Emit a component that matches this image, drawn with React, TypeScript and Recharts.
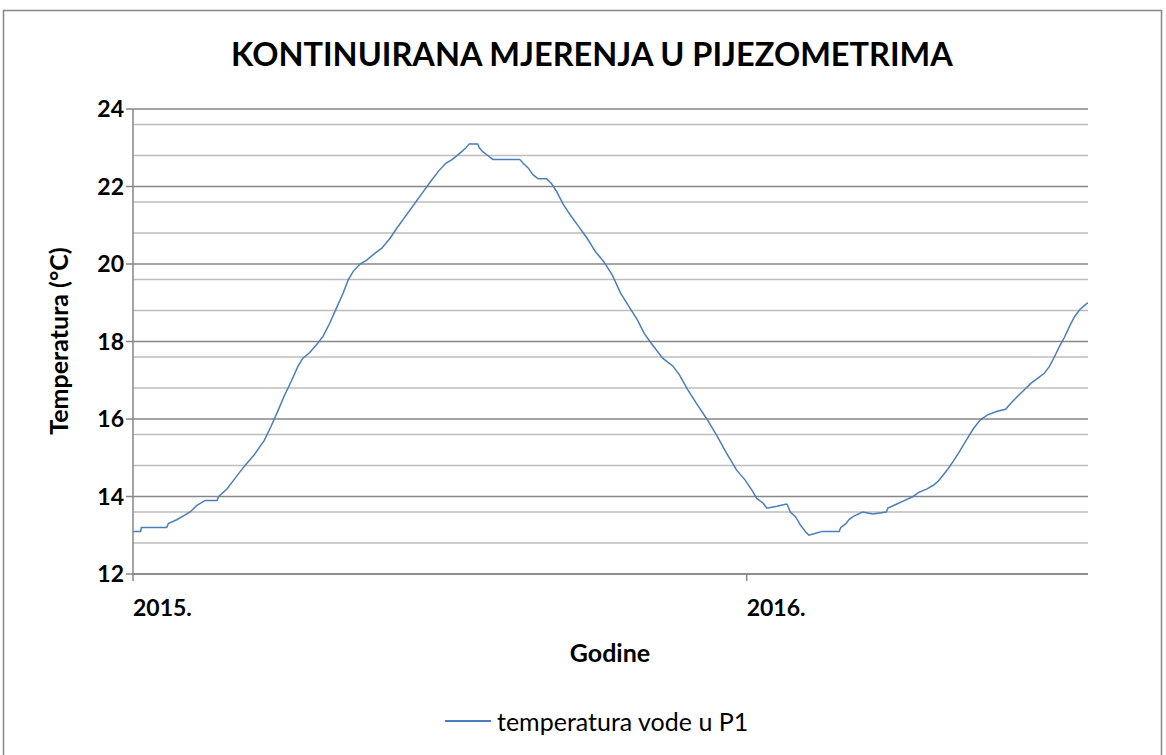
import { CartesianGrid, Legend, Line, LineChart, XAxis, YAxis } from 'recharts'

// days since 1.1.2015, water temperature
const days = [
    0, 4.5, 5, 20, 21, 26, 30, 34, 38, 43, 50, 51, 56, 60, 66, 72, 78, 82, 86, 90, 94, 98,
    101, 105, 109, 113, 117, 121, 125, 128, 131, 135, 139, 144, 148, 153, 157, 162, 167, 172, 177, 182,
    186, 190, 195, 198, 200, 205, 206, 208, 211, 214, 230, 232, 235, 238, 241, 246, 249, 252, 256, 260,
    265, 270, 275, 280, 285, 290, 295, 300, 304, 309, 315, 321, 325, 330, 335, 341, 347, 353, 359, 364,
    368, 371, 375, 377, 383, 388, 389, 391, 394, 397, 400, 402, 406, 410, 420, 421, 424, 426, 429, 434,
    440, 448, 449, 454, 459, 464, 467, 472, 476, 479, 482, 485, 488, 491, 496, 500, 504, 508, 514, 519,
    522, 526, 530, 534, 538, 542, 545, 548, 551, 554, 557, 560, 563, 567, 568
]
const temps = [
    13.1, 13.1, 13.2, 13.2, 13.3, 13.4, 13.5, 13.6, 13.77, 13.9, 13.9, 14.0, 14.2, 14.43, 14.77, 15.07, 15.44, 15.8, 16.19, 16.6, 16.96, 17.35,
    17.57, 17.71, 17.91, 18.13, 18.47, 18.86, 19.25, 19.59, 19.81, 20.0, 20.1, 20.28, 20.41, 20.67, 20.93, 21.23, 21.53, 21.83, 22.13, 22.41,
    22.6, 22.7, 22.88, 23.0, 23.1, 23.1, 23.0, 22.9, 22.8, 22.7, 22.7, 22.6, 22.48, 22.3, 22.2, 22.2, 22.07, 21.87, 21.53, 21.27,
    20.97, 20.67, 20.32, 20.06, 19.72, 19.25, 18.9, 18.56, 18.21, 17.91, 17.57, 17.37, 17.14, 16.75, 16.41, 16.02, 15.59, 15.12, 14.68, 14.43,
    14.17, 13.95, 13.82, 13.7, 13.75, 13.8, 13.8, 13.6, 13.48, 13.26, 13.09, 13.0, 13.05, 13.1, 13.1, 13.2, 13.3, 13.41, 13.5, 13.6,
    13.55, 13.6, 13.7, 13.8, 13.9, 14.0, 14.1, 14.19, 14.29, 14.4, 14.56, 14.73, 14.92, 15.12, 15.48, 15.76, 15.98, 16.1, 16.2, 16.25,
    16.4, 16.58, 16.75, 16.92, 17.05, 17.18, 17.35, 17.6, 17.87, 18.11, 18.39, 18.64, 18.82, 18.97, 19.0
]

const yearTicks = [0, 365]
const yearLabels = ['2015.', '2016.']
const majorTicks = [12, 14, 16, 18, 20, 22, 24]
const minorTicks = [12.4, 12.8, 13.2, 13.6, 14.4, 14.8, 15.2, 15.6, 16.4, 16.8, 17.2, 17.6,
    18.4, 18.8, 19.2, 19.6, 20.4, 20.8, 21.2, 21.6, 22.4, 22.8, 23.2, 23.6]

const data = days.map((d, i) => ({ day: d, temp: temps[i] }))

const FONT = 'Lato, "Open Sans", sans-serif'

const YearTick = (props) => {
    const { x, y, payload } = props
    const idx = yearTicks.indexOf(payload.value)
    return (
        <text x={x} y={y + 33} textAnchor="start" fontFamily={FONT} fontWeight="bold" fontSize={23} fill="#000">
            {yearLabels[idx]}
        </text>
    )
}

const LegendBox = () => (
    <div style={{ display: 'flex', alignItems: 'center', height: 30, fontFamily: FONT, fontSize: 25 }}>
        <div style={{ width: 46, height: 0, borderTop: '2px solid #4a7ebb', marginRight: 6 }} />
        <span>temperatura vode u P1</span>
    </div>
)

export default function App() {
    return (
        <div style={{ position: 'absolute', left: 0, top: 0, width: 1166, height: 755, overflow: 'hidden', background: '#fff' }}>
            <svg width={1166} height={755} style={{ position: 'absolute', left: 0, top: 0 }}>
                <rect x={3.5} y={10.5} width={1158} height={800} fill="#fff" stroke="#868686" strokeWidth={1.5} />
            </svg>
            <div style={{ position: 'absolute', left: 0, width: 1184, top: 34, textAlign: 'center', fontFamily: FONT, fontWeight: 'bold', fontSize: 32.5, color: '#000' }}>
                KONTINUIRANA MJERENJA U PIJEZOMETRIMA
            </div>
            <div style={{ position: 'absolute', left: 58, top: 341, transform: 'translate(-50%, -50%) rotate(-90deg)', whiteSpace: 'nowrap', fontFamily: FONT, fontWeight: 'bold', fontSize: 25 }}>
                Temperatura (°C)
            </div>
            <div style={{ position: 'absolute', left: 610, top: 652, transform: 'translate(-50%, -50%)', fontFamily: FONT, fontWeight: 'bold', fontSize: 25 }}>
                Godine
            </div>
            <div style={{ position: 'absolute', left: 0, top: 0 }}>
                <LineChart width={1166} height={755} data={data}
                    margin={{ top: 109, right: 78, left: 0, bottom: 121 }}>
                    <CartesianGrid horizontalValues={minorTicks} vertical={false} stroke="#bdbdbd" strokeWidth={1.5} />
                    <CartesianGrid horizontalValues={majorTicks} vertical={false} stroke="#878787" strokeWidth={1.5} />
                    <XAxis dataKey="day" type="number" domain={[0, 568]} ticks={yearTicks} tick={<YearTick />}
                           axisLine={{ stroke: '#878787', strokeWidth: 1.5 }} tickLine={{ stroke: '#878787', strokeWidth: 1.5 }}
                           tickSize={7} height={30} allowDataOverflow />
                    <YAxis type="number" domain={[12, 24]} ticks={majorTicks} width={133}
                           axisLine={{ stroke: '#878787', strokeWidth: 1.5 }} tickLine={{ stroke: '#878787', strokeWidth: 1.5 }}
                           tickSize={7} tickMargin={2}
                           tick={{ fill: '#000', fontFamily: FONT, fontWeight: 'bold', fontSize: 23 }} />
                    <Legend verticalAlign="bottom" content={<LegendBox />}
                            wrapperStyle={{ position: 'absolute', top: 706, left: 445, width: 'auto', bottom: 'auto' }} />
                    <Line type="linear" dataKey="temp" stroke="#4a7ebb" strokeWidth={1.5} dot={false}
                          name="temperatura vode u P1" isAnimationActive={false} />
                </LineChart>
            </div>
        </div>
    )
}
